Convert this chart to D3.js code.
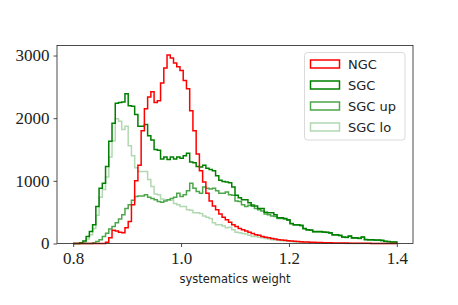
<!DOCTYPE html>
<html>
<head>
<meta charset="utf-8">
<script src="https://cdn.jsdelivr.net/npm/d3@7"></script>
<style>
  html, body { margin: 0; padding: 0; background: white; }
  svg { display: block; }
</style>
</head>
<body>
<div id="chart"></div>
<script>
// histogram of systematics weights, 100 bins from 0.8 to 1.4
const binStart = 0.8;
const binWidth = 0.006;

const ngc = [
  0, 0, 0, 0, 0, 0, 0, 0, 0, 0,
  20, 90, 210, 200, 180, 170, 250, 350, 620, 1000,
  1250, 1800, 2150, 2340, 2420, 2250, 2280, 2560, 2800, 3010,
  2960, 2880, 2820, 2760, 2600, 2470, 2120, 1800, 1430, 1160,
  980, 800, 680, 600, 540, 470, 420, 380, 340, 300,
  270, 240, 220, 200, 180, 160, 140, 130, 110, 100,
  90, 80, 70, 60, 55, 50, 45, 40, 35, 30,
  28, 25, 22, 20, 18, 16, 14, 12, 11, 10,
  9, 8, 7, 6, 6, 5, 5, 4, 4, 3,
  3, 3, 2, 2, 2, 1, 1, 1, 1, 1
];

const sgc = [
  0, 0, 10, 40, 110, 190, 300, 590, 880, 960,
  1230, 1630, 1920, 2240, 2250, 2260, 2390, 2200, 2190, 2060,
  1870, 1870, 1900, 1720, 1650, 1500, 1490, 1350, 1380, 1340,
  1380, 1350, 1380, 1360, 1400, 1440, 1300, 1290, 1230, 1220,
  1250, 1200, 1180, 1160, 1080, 1010, 990, 980, 970, 900,
  770, 730, 700, 700, 650, 600, 600, 560, 560, 500,
  490, 490, 460, 410, 410, 400, 380, 320, 300, 300,
  290, 240, 220, 215, 190, 190, 190, 185, 180, 170,
  140, 140, 130, 105, 100, 120, 90, 90, 85, 105,
  65, 60, 60, 55, 55, 50, 35, 30, 25, 25
];

const sgcUp = [
  0, 0, 0, 0, 0, 0, 10, 30, 60, 110,
  165, 230, 270, 330, 390, 460, 560, 620, 690, 750,
  760, 760, 780, 740, 720, 700, 670, 660, 680, 700,
  720, 740, 800, 750, 780, 840, 960, 880, 830, 800,
  900, 880, 870, 880, 840, 800, 800, 820, 780, 770,
  680, 670, 620, 590, 610, 620, 560, 540, 520, 470,
  460, 440, 430, 400, 400, 390, 370, 315, 295, 295,
  285, 235, 215, 210, 185, 185, 185, 180, 175, 165,
  135, 135, 125, 100, 95, 115, 85, 85, 80, 100,
  60, 55, 55, 50, 50, 45, 32, 28, 22, 22
];

const sgcLo = [
  0, 0, 0, 20, 70, 140, 240, 450, 740, 860,
  1060, 1380, 1640, 1990, 1950, 1820, 1870, 1560, 1400, 1210,
  1150, 1150, 1150, 1020, 910, 790, 780, 710, 700, 700,
  690, 640, 620, 590, 590, 540, 530, 490, 490, 480,
  440, 420, 400, 330, 300, 300, 280, 250, 260, 220,
  180, 170, 160, 150, 130, 110, 110, 100, 90, 80,
  70, 60, 55, 50, 45, 40, 35, 30, 25, 25,
  20, 18, 15, 12, 10, 10, 8, 6, 5, 5,
  4, 4, 3, 3, 2, 2, 2, 1, 1, 1,
  1, 1, 0, 0, 0, 0, 0, 0, 0, 0
];

const seriesNames = ["NGC", "SGC", "SGC up", "SGC lo"];
const seriesColors = ["#ff0000", "#008000", "#4ca64c", "#b2d8b2"];
const seriesValues = [ngc, sgc, sgcUp, sgcLo];

const xTicks = [0.8, 1.0, 1.2, 1.4];
const yTicks = [0, 1000, 2000, 3000];

const width = 458, height = 305;
const margin = { top: 45.5, right: 45, bottom: 61.5, left: 57 };
const serif = "'Liberation Serif', 'Times New Roman', serif";

const svg = d3.select("#chart").append("svg")
    .attr("width", width)
    .attr("height", height)
    .style("background", "white");

const x = d3.scaleLinear().domain([0.77, 1.43]).range([margin.left, width - margin.right]);
const y = d3.scaleLinear().domain([0, 3160]).range([height - margin.bottom, margin.top]);

// step outlines
const line = d3.line().x(d => x(d[0])).y(d => y(d[1]));

function stepPoints(vals) {
    const pts = [[binStart, 0]];
    vals.forEach((v, i) => {
        pts.push([binStart + i * binWidth, v]);
        pts.push([binStart + (i + 1) * binWidth, v]);
    });
    pts.push([binStart + vals.length * binWidth, 0]);
    return pts;
}

// lighter ones first so the darker outlines sit on top
const order = [3, 2, 1, 0];
svg.append("g")
    .selectAll("path")
    .data(order)
    .join("path")
    .attr("d", i => line(stepPoints(seriesValues[i])))
    .attr("fill", "none")
    .attr("stroke", i => seriesColors[i])
    .attr("stroke-width", 1.5)
    .attr("stroke-linejoin", "miter");

// axes
const xAxis = svg.append("g")
    .attr("transform", `translate(0,${height - margin.bottom})`)
    .call(d3.axisBottom(x).tickValues(xTicks).tickFormat(d3.format(".1f"))
        .tickSize(3.5).tickPadding(5).tickSizeOuter(0));

const yAxis = svg.append("g")
    .attr("transform", `translate(${margin.left},0)`)
    .call(d3.axisLeft(y).tickValues(yTicks).tickFormat(d3.format("d"))
        .tickSize(3.5).tickPadding(4).tickSizeOuter(0));

[xAxis, yAxis].forEach(g => {
    g.attr("font-family", serif).attr("font-size", 17);
    g.select(".domain").remove();
    g.selectAll("line").attr("stroke", "#222").attr("stroke-width", 0.8);
    g.selectAll("text")
        .style("font-family", serif)
        .style("font-size", "17px")
        .attr("fill", "#222");
});

// frame
svg.append("rect")
    .attr("x", margin.left).attr("y", margin.top)
    .attr("width", width - margin.left - margin.right)
    .attr("height", height - margin.top - margin.bottom)
    .attr("fill", "none")
    .attr("stroke", "#222")
    .attr("stroke-width", 0.8);

svg.append("text")
    .attr("x", (margin.left + width - margin.right) / 2)
    .attr("y", 283)
    .attr("text-anchor", "middle")
    .style("font-family", "'DejaVu Sans', sans-serif")
    .style("font-size", "11.5px")
    .attr("fill", "#222")
    .text("systematics weight");

// legend
const legend = svg.append("g");
legend.append("rect")
    .attr("x", 304.5).attr("y", 52.5)
    .attr("width", 100.5).attr("height", 87.5)
    .attr("rx", 3)
    .attr("fill", "white").attr("fill-opacity", 0.8)
    .attr("stroke", "#d0d0d0").attr("stroke-width", 0.8);

const items = legend.selectAll("g.item")
    .data(seriesNames)
    .join("g")
    .attr("class", "item")
    .attr("transform", (d, i) => `translate(0,${64 + i * 21})`);

items.append("rect")
    .attr("x", 310.5).attr("y", -4)
    .attr("width", 29).attr("height", 8)
    .attr("fill", "none")
    .attr("stroke", (d, i) => seriesColors[i])
    .attr("stroke-width", 1.5);

items.append("text")
    .attr("x", 348)
    .attr("dy", "0.36em")
    .style("font-family", "'DejaVu Sans', sans-serif")
    .style("font-size", "13px")
    .attr("fill", "#222")
    .text(d => d);
</script>
</body>
</html>
